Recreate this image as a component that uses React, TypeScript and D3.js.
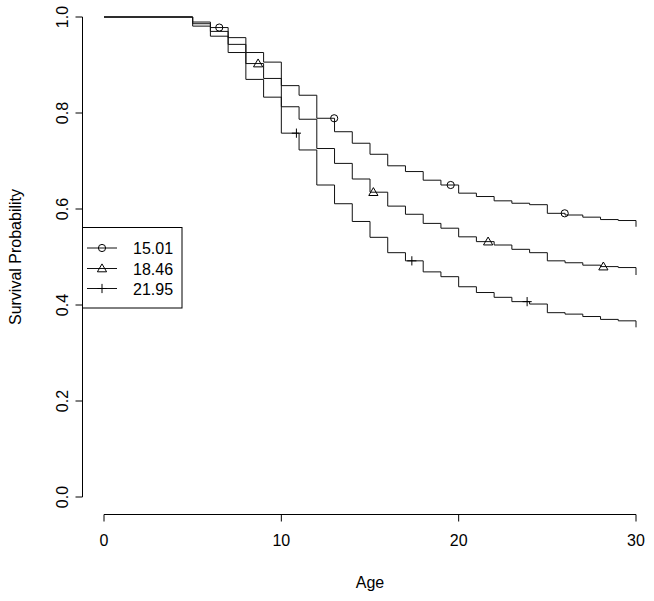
import React from "react";
import * as d3 from "d3";

const ages = [0, 5, 6, 7, 8, 9, 10, 11, 12, 13, 14, 15, 16, 17, 18, 19, 20, 21, 22, 23, 24, 25, 26, 27, 28, 29, 30];
const survA = [1.0, 0.9895, 0.978, 0.957, 0.926, 0.906, 0.857, 0.837, 0.789, 0.761, 0.737, 0.714, 0.69, 0.678, 0.66, 0.65, 0.633, 0.626, 0.617, 0.612, 0.609, 0.591, 0.5875, 0.583, 0.578, 0.576, 0.563];
const survB = [1.0, 0.986, 0.97, 0.943, 0.903, 0.872, 0.813, 0.787, 0.726, 0.695, 0.6625, 0.635, 0.606, 0.589, 0.57, 0.56, 0.542, 0.532, 0.525, 0.516, 0.509, 0.492, 0.488, 0.483, 0.48, 0.478, 0.4625];
const survC = [1.0, 0.981, 0.96, 0.926, 0.87, 0.833, 0.758, 0.723, 0.65, 0.611, 0.574, 0.541, 0.509, 0.492, 0.469, 0.459, 0.438, 0.426, 0.416, 0.407, 0.402, 0.384, 0.381, 0.376, 0.37, 0.367, 0.3535];

const seriesLabels = ["15.01", "18.46", "21.95"];
const markTimesA = [6.5, 12.98, 19.55, 25.98];
const markTimesB = [8.69, 15.19, 21.66, 28.16];
const markTimesC = [10.85, 17.36, 23.86];

const xTicks = [0, 10, 20, 30];
const yTicks = [0, 0.2, 0.4, 0.6, 0.8, 1.0];

const FONT = "'Liberation Sans', Arial, Helvetica, sans-serif";

function stepValue(t: number, vals: number[]) {
  let v = vals[0];
  for (let i = 0; i < ages.length; i++) {
    if (ages[i] <= t) v = vals[i];
  }
  return v;
}

function Marker({ kind, cx, cy }: { kind: string; cx: number; cy: number }) {
  if (kind === "circle") {
    return <circle cx={cx} cy={cy} r={3.6} fill="none" stroke="#000" strokeWidth={1} />;
  }
  if (kind === "triangle") {
    const r = 4.6;
    const pts = [
      [cx, cy - r],
      [cx - r, cy + r * 0.72],
      [cx + r, cy + r * 0.72],
    ];
    return <polygon points={pts.map((p) => p.join(",")).join(" ")} fill="none" stroke="#000" strokeWidth={1} />;
  }
  const r = 4.6;
  return (
    <g stroke="#000" strokeWidth={1}>
      <line x1={cx - r} x2={cx + r} y1={cy} y2={cy} />
      <line x1={cx} x2={cx} y1={cy - r} y2={cy + r} />
    </g>
  );
}

export default function App() {
  const x = d3.scaleLinear().domain([0, 30]).range([104, 636]);
  const y = d3.scaleLinear().domain([0, 1]).range([497, 17]);

  const line = d3
    .line<[number, number]>()
    .x((d) => x(d[0]))
    .y((d) => y(d[1]))
    .curve(d3.curveStepAfter);

  const series = [
    { vals: survA, marks: markTimesA, kind: "circle" },
    { vals: survB, marks: markTimesB, kind: "triangle" },
    { vals: survC, marks: markTimesC, kind: "plus" },
  ];

  const axisX = 82.5;
  const axisY = 514.5;

  const legendRows = [248, 268.5, 288.5];

  return (
    <svg
      width={654}
      height={601}
      style={{ position: "absolute", left: 0, top: 0, background: "#fff" }}
      fontFamily={FONT}
    >
      <rect x={0} y={0} width={654} height={601} fill="#fff" />
      {series.map((s, i) => (
        <g key={i}>
          <path
            d={line(ages.map((a, j) => [a, s.vals[j]] as [number, number])) || ""}
            fill="none"
            stroke="#111"
            strokeWidth={1}
          />
          {s.marks.map((t, k) => (
            <Marker key={k} kind={s.kind} cx={x(t)} cy={y(stepValue(t, s.vals))} />
          ))}
        </g>
      ))}

      {/* y axis */}
      <line x1={axisX} x2={axisX} y1={y(0)} y2={y(1)} stroke="#000" strokeWidth={1} />
      {yTicks.map((t) => (
        <g key={t}>
          <line x1={axisX - 7} x2={axisX} y1={y(t)} y2={y(t)} stroke="#000" strokeWidth={1} />
          <text
            transform={`translate(${axisX - 15},${y(t)}) rotate(-90)`}
            textAnchor="middle"
            fontSize={16}
            fill="#000"
          >
            {t.toFixed(1)}
          </text>
        </g>
      ))}
      <text
        transform={`translate(21,${(y(0) + y(1)) / 2}) rotate(-90)`}
        textAnchor="middle"
        fontSize={16}
        fill="#000"
      >
        Survival Probability
      </text>

      {/* x axis */}
      <line x1={x(0)} x2={x(30)} y1={axisY} y2={axisY} stroke="#000" strokeWidth={1} />
      {xTicks.map((t) => (
        <g key={t}>
          <line x1={x(t)} x2={x(t)} y1={axisY} y2={axisY + 7} stroke="#000" strokeWidth={1} />
          <text x={x(t)} y={546} textAnchor="middle" fontSize={16} fill="#000">
            {t}
          </text>
        </g>
      ))}
      <text x={(x(0) + x(30)) / 2} y={588} textAnchor="middle" fontSize={16} fill="#000">
        Age
      </text>

      {/* legend */}
      <rect x={82.5} y={227.5} width={99.5} height={80.5} fill="none" stroke="#000" strokeWidth={1} />
      {series.map((s, i) => (
        <g key={i}>
          <line x1={87} x2={117} y1={legendRows[i]} y2={legendRows[i]} stroke="#111" strokeWidth={1} />
          <Marker kind={s.kind} cx={102} cy={legendRows[i]} />
          <text x={133} y={legendRows[i] + 6} fontSize={16} fill="#000">
            {seriesLabels[i]}
          </text>
        </g>
      ))}
    </svg>
  );
}
